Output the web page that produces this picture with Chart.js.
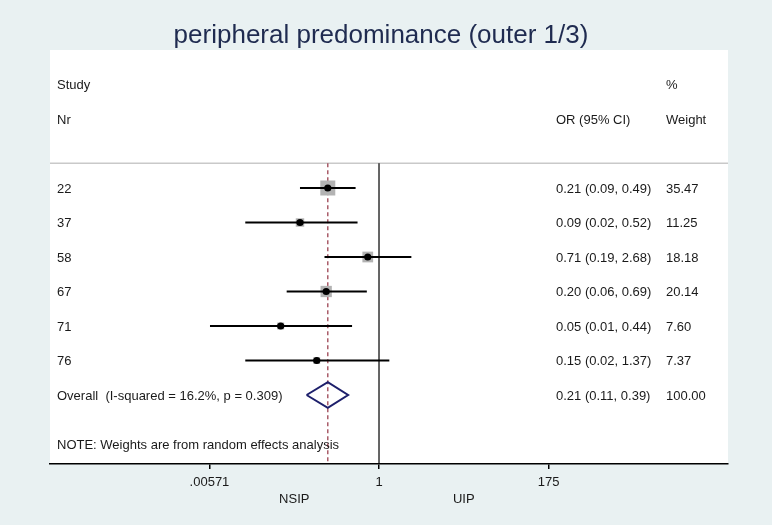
<!DOCTYPE html>
<html>
<head>
<meta charset="utf-8">
<script src="https://cdn.jsdelivr.net/npm/chart.js@4.4.1/dist/chart.umd.min.js"></script>
<style>
  body { margin: 0; background: #e9f1f2; }
  canvas { display: block; }
</style>
</head>
<body>
<canvas id="forest" width="772" height="525"></canvas>
<script>
// study rows
const studies  = ['22', '37', '58', '67', '71', '76'];
const orVals   = [0.21, 0.09, 0.71, 0.20, 0.05, 0.15];
const ciLow    = [0.09, 0.017, 0.19, 0.06, 0.0058, 0.017];
const ciHigh   = [0.49, 0.52, 2.68, 0.69, 0.44, 1.37];
const weights  = [35.47, 11.25, 18.18, 20.14, 7.60, 7.37];

const overallOR     = 0.21;
const overallLow    = 0.11;
const overallHigh   = 0.39;
const overallWeight = 100.00;
const overallLabel  = 'Overall  (I-squared = 16.2%, p = 0.309)';

const tickVals   = [0.00571, 1, 175];
const tickLabels = ['.00571', '1', '175'];
const favourLabels = ['NSIP', 'UIP'];

const FONT = '"Liberation Sans", Arial, sans-serif';
const rowOf = i => i + 1;
const overallRow = studies.length + 1;
const fmt = v => v.toFixed(2);

const datasets = [];

// vertical reference lines, from header line down to axis
datasets.push({
  data: [{x: 1, y: 0.28}, {x: 1, y: 9}],
  borderColor: '#000', borderWidth: 1.2, pointRadius: 0, showLine: true, order: 4
});
datasets.push({
  data: [{x: overallOR, y: 0.28}, {x: overallOR, y: 9}],
  borderColor: '#a3505e', borderWidth: 1.4, borderDash: [4, 3], pointRadius: 0, showLine: true, order: 4
});

// weight boxes (area ~ weight)
datasets.push({
  data: studies.map((s, i) => ({x: orVals[i], y: rowOf(i)})),
  pointStyle: 'rect',
  pointRadius: weights.map(w => 15 * Math.sqrt(w / 35.47) / Math.SQRT2),
  backgroundColor: '#b3b3b3', borderColor: '#b3b3b3', borderWidth: 0,
  showLine: false, order: 3
});

// confidence intervals
studies.forEach((s, i) => {
  datasets.push({
    data: [{x: ciLow[i], y: rowOf(i)}, {x: ciHigh[i], y: rowOf(i)}],
    borderColor: '#000', borderWidth: 2, pointRadius: 0, showLine: true, order: 2
  });
});

// point estimates
datasets.push({
  data: studies.map((s, i) => ({x: orVals[i], y: rowOf(i)})),
  pointStyle: 'circle', pointRadius: 3.6,
  backgroundColor: '#000', borderColor: '#000', borderWidth: 0,
  showLine: false, order: 1
});

// overall diamond
datasets.push({
  data: [
    {x: overallLow, y: overallRow},
    {x: overallOR, y: overallRow - 0.37},
    {x: overallHigh, y: overallRow},
    {x: overallOR, y: overallRow + 0.37},
    {x: overallLow, y: overallRow}
  ],
  borderColor: '#1d1f6b', borderWidth: 2, pointRadius: 0, showLine: true,
  backgroundColor: '#fff', fill: false, order: 1
});

const tablePlugin = {
  id: 'table',
  beforeDraw(chart) {
    const {ctx, chartArea: a} = chart;
    ctx.save();
    ctx.fillStyle = '#e9f1f2';
    ctx.fillRect(0, 0, chart.width, chart.height);
    ctx.fillStyle = '#fff';
    ctx.fillRect(a.left, a.top, a.right - a.left, a.bottom - a.top);
    // header separator
    const yl = chart.scales.y.getPixelForValue(0.28);
    ctx.strokeStyle = '#c9c9c9';
    ctx.lineWidth = 1.5;
    ctx.beginPath();
    ctx.moveTo(a.left, yl);
    ctx.lineTo(a.right, yl);
    ctx.stroke();
    ctx.restore();
  },
  afterDraw(chart) {
    const {ctx, chartArea: a} = chart;
    const y = chart.scales.y, x = chart.scales.x;
    const c1 = a.left + 7, c2 = a.left + 506, c3 = a.left + 616;
    ctx.save();
    // title
    ctx.fillStyle = '#1f2b50';
    ctx.font = '26px ' + FONT;
    ctx.textAlign = 'center';
    ctx.textBaseline = 'alphabetic';
    ctx.fillText('peripheral predominance (outer 1/3)', (a.left + a.right) / 2 - 8, 43);

    ctx.fillStyle = '#1a1a1a';
    ctx.font = '13px ' + FONT;
    ctx.textAlign = 'left';
    ctx.textBaseline = 'middle';
    ctx.fillText('Study', c1, y.getPixelForValue(-2) + 1);
    ctx.fillText('Nr', c1, y.getPixelForValue(-1) + 1);
    ctx.fillText('%', c3, y.getPixelForValue(-2) + 1);
    ctx.fillText('OR (95% CI)', c2, y.getPixelForValue(-1) + 1);
    ctx.fillText('Weight', c3, y.getPixelForValue(-1) + 1);

    studies.forEach((s, i) => {
      const py = y.getPixelForValue(rowOf(i)) + 1;
      ctx.fillText(s, c1, py);
      ctx.fillText(fmt(orVals[i]) + ' (' + fmt(ciLow[i]) + ', ' + fmt(ciHigh[i]) + ')', c2, py);
      ctx.fillText(fmt(weights[i]), c3, py);
    });
    const po = y.getPixelForValue(overallRow) + 1;
    ctx.fillText(overallLabel, c1, po);
    ctx.fillText(fmt(overallOR) + ' (' + fmt(overallLow) + ', ' + fmt(overallHigh) + ')', c2, po);
    ctx.fillText(fmt(overallWeight), c3, po);
    ctx.fillText('NOTE: Weights are from random effects analysis', c1, y.getPixelForValue(8.45));

    // favours labels below the axis
    ctx.textAlign = 'center';
    const lo = Math.sqrt(tickVals[0] * tickVals[1]);
    const hi = Math.sqrt(tickVals[1] * tickVals[2]);
    ctx.fillText(favourLabels[0], x.getPixelForValue(lo), a.bottom + 35);
    ctx.fillText(favourLabels[1], x.getPixelForValue(hi), a.bottom + 35);
    ctx.restore();
  }
};

new Chart(document.getElementById('forest'), {
  type: 'scatter',
  data: { datasets },
  plugins: [tablePlugin],
  options: {
    responsive: false,
    animation: false,
    layout: { padding: { top: 50, left: 50, right: 44, bottom: 0 } },
    plugins: { legend: { display: false }, tooltip: { enabled: false }, title: { display: false } },
    scales: {
      x: {
        type: 'logarithmic',
        min: 4.43e-5,
        max: 41500,
        afterBuildTicks: scale => { scale.ticks = tickVals.map(v => ({value: v})); },
        afterFit: scale => { scale.height = 61; },
        ticks: {
          callback: (v, i) => tickLabels[i],
          color: '#1a1a1a',
          font: { family: FONT, size: 13 },
          padding: 6,
          maxRotation: 0,
          autoSkip: false
        },
        grid: { drawOnChartArea: false, drawTicks: true, tickLength: 5, color: '#000', lineWidth: 1.5 },
        border: { display: true, color: '#000', width: 1.5 }
      },
      y: {
        display: false,
        min: -3,
        max: 9,
        reverse: true
      }
    }
  }
});
</script>
</body>
</html>
